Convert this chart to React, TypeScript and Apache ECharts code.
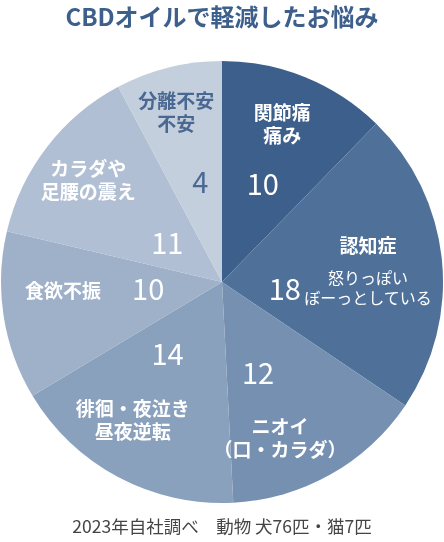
import { useEffect, useRef } from 'react';
import * as echarts from 'echarts';

const categories = ['関節痛\n痛み', '認知症', 'ニオイ\n（口・カラダ）', '徘徊・夜泣き\n昼夜逆転', '食欲不振', 'カラダや\n足腰の震え', '分離不安\n不安'];
const notes = ['', '怒りっぽい\nぼーっとしている', '', '', '', '', ''];
const counts = [10, 18, 12, 14, 10, 11, 4];
const titleText = 'CBDオイルで軽減したお悩み';
const footnote = '2023年自社調べ　動物 犬76匹・猫7匹';

const sliceColors = ['#3d5f8b', '#4f7098', '#7590b1', '#8aa1bd', '#9eb1c9', '#b0bfd3', '#c4cfdd'];
const textColors = ['#fff', '#fff', '#fff', '#fff', '#fff', '#fff', '#4a6892'];
// label placement: [fraction of radius, angle shift in degrees]
const namePlace = [[0.77, -1.4], [0.665, -1], [0.75, 9], [0.74, 5], [0.72, 6], [0.765, 0], [0.8, -1]];
const valuePlace = [[0.49, 0], [0.285, 10], [0.435, 7.5], [0.4, 10], [0.335, 5], [0.31, -0.7], [0.47, 2]];

const FONT = '"Noto Sans CJK JP", "Noto Sans", sans-serif';
const RADIUS = 221;
const CENTER_Y = 282;

export default function App() {
  const chartRef = useRef<HTMLDivElement>(null);

  useEffect(() => {
    if (!chartRef.current) return;
    const chart = echarts.init(chartRef.current, null, { renderer: 'svg' });
    const cx = chart.getWidth() / 2;

    // move a label from its default inside spot to a chosen radius / angle
    const place = (table: number[][]) => (params: any) => {
      const r = params.labelRect;
      const px = r.x + r.width / 2;
      const py = r.y + r.height / 2;
      const [frac, shift] = table[params.dataIndex];
      const a = Math.atan2(py - CENTER_Y, px - cx) + (shift * Math.PI) / 180;
      return { x: cx + Math.cos(a) * RADIUS * frac, y: CENTER_Y + Math.sin(a) * RADIUS * frac };
    };

    const option = {
      animation: false,
      textStyle: { fontFamily: FONT },
      title: [
        {
          text: titleText,
          left: 'center',
          top: 2,
          padding: 0,
          textStyle: { fontSize: 24, fontWeight: 'bold', color: '#3d5f8b', fontFamily: FONT, lineHeight: 26 },
        },
        {
          text: footnote,
          left: 'center',
          top: 517,
          padding: 0,
          textStyle: { fontSize: 17.5, fontWeight: 'normal', color: '#444', fontFamily: FONT },
        },
      ],
      series: [
        {
          type: 'pie',
          radius: RADIUS,
          center: ['50%', CENTER_Y],
          startAngle: 90,
          clockwise: true,
          minAngle: 28,
          silent: true,
          labelLine: { show: false },
          labelLayout: place(namePlace),
          data: categories.map((name, i) => ({
            name,
            value: counts[i],
            itemStyle: { color: sliceColors[i], borderWidth: 0 },
            label: {
              show: true,
              position: 'inside',
              formatter: notes[i]
                ? `{n|${name}}\n${notes[i].split('\n').map((s) => `{s|${s}}`).join('\n')}`
                : name,
              color: textColors[i],
              fontSize: 19,
              fontWeight: 'bold',
              lineHeight: 23,
              fontFamily: FONT,
              rich: {
                n: { fontSize: 19, fontWeight: 'bold', lineHeight: 46, color: textColors[i], fontFamily: FONT },
                s: { fontSize: 16, fontWeight: 'normal', lineHeight: 20, color: textColors[i], fontFamily: FONT },
              },
            },
          })),
        },
        {
          type: 'pie',
          radius: RADIUS,
          center: ['50%', CENTER_Y],
          startAngle: 90,
          clockwise: true,
          minAngle: 28,
          silent: true,
          labelLine: { show: false },
          labelLayout: place(valuePlace),
          itemStyle: { color: 'transparent' },
          data: categories.map((name, i) => ({
            name,
            value: counts[i],
            label: {
              show: true,
              position: 'inside',
              formatter: String(counts[i]),
              color: textColors[i],
              fontSize: 29,
              fontFamily: FONT,
            },
          })),
        },
      ],
    };

    chart.setOption(option);
    return () => chart.dispose();
  }, []);

  return <div ref={chartRef} style={{ position: 'fixed', left: 0, top: 0, width: 444, height: 542 }}></div>;
}
